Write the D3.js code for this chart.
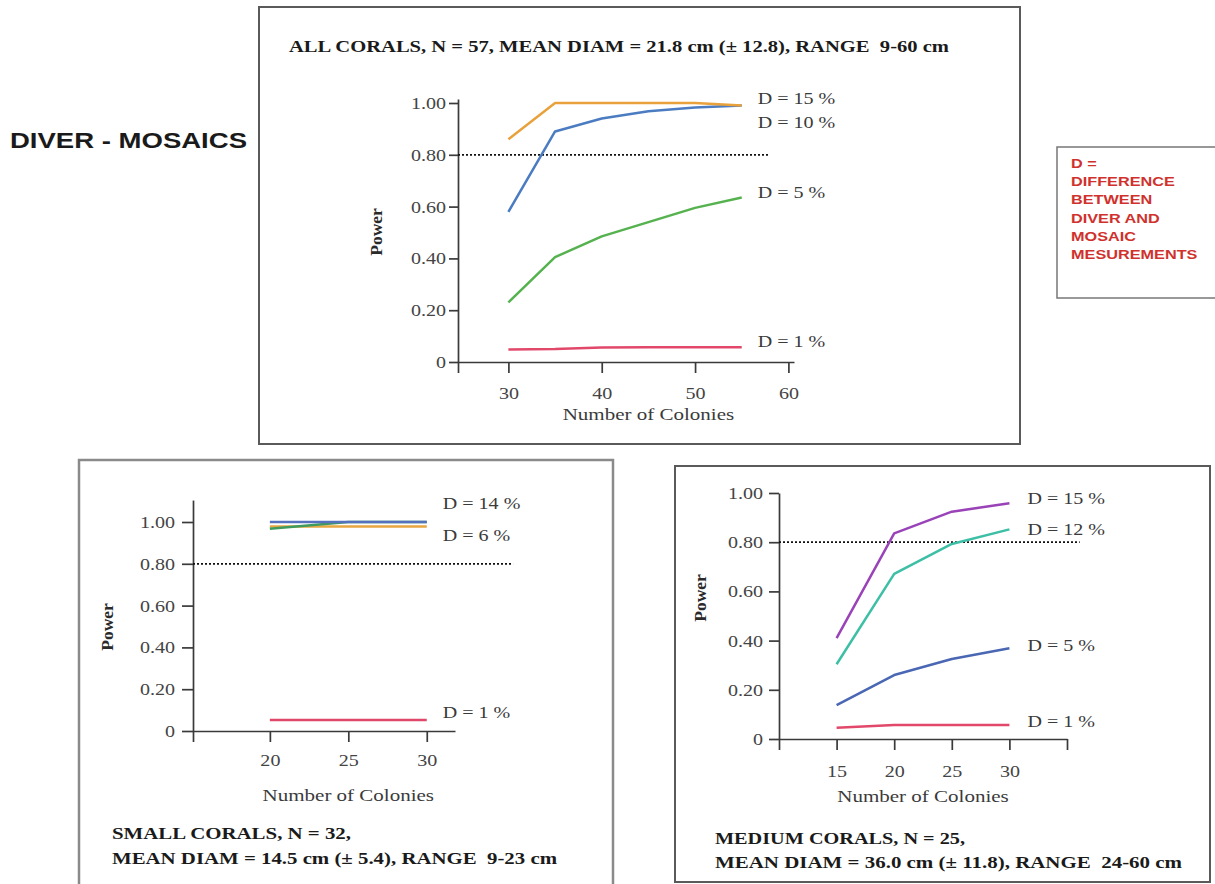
<!DOCTYPE html>
<html>
<head>
<meta charset="utf-8">
<script src="https://cdn.jsdelivr.net/npm/d3@7"></script>
<style>
  html, body { margin: 0; padding: 0; background: #fff; }
  svg { display: block; }
  .serif { font-family: "Liberation Serif", "Times New Roman", serif; }
  .sans { font-family: "Liberation Sans", Arial, sans-serif; }
  text { white-space: pre; }
</style>
</head>
<body>
<svg id="chart" width="1215" height="884"></svg>
<script>
// ---------------- DATA ----------------
const yTicks = [0, 0.2, 0.4, 0.6, 0.8, 1.0];
const yTickLabels = ["0", "0.20", "0.40", "0.60", "0.80", "1.00"];
const powerThreshold = 0.8;

// All corals
const allX = [30, 35, 40, 45, 50, 55];
const allD15 = [0.86, 1.00, 1.00, 1.00, 1.00, 0.99];
const allD10 = [0.58, 0.89, 0.94, 0.968, 0.983, 0.99];
const allD5  = [0.23, 0.405, 0.485, 0.54, 0.595, 0.635];
const allD1  = [0.048, 0.05, 0.056, 0.057, 0.057, 0.057];
const allXTicks = [30, 40, 50, 60];
const allLabels = ["D = 15 %", "D = 10 %", "D = 5 %", "D = 1 %"];
const allLabelY = [1.02, 0.927, 0.656, 0.081];
const allTitle = "ALL CORALS, N = 57, MEAN DIAM = 21.8 cm (\u00b1 12.8), RANGE \u00a09-60 cm";

// Small corals
const smallX = [20, 25, 30];
const smallD14 = [1.00, 1.00, 1.00];
const smallDx  = [0.968, 1.00, 1.00];
const smallD6  = [0.978, 0.978, 0.978];
const smallD1  = [0.053, 0.053, 0.053];
const smallXTicks = [20, 25, 30];
const smallLabels = ["D = 14 %", "D = 6 %", "D = 1 %"];
const smallLabelY = [1.091, 0.938, 0.091];
const smallTitle1 = "SMALL CORALS, N = 32,";
const smallTitle2 = "MEAN DIAM = 14.5 cm (\u00b1 5.4), RANGE \u00a09-23 cm";

// Medium corals
const medX = [15, 20, 25, 30];
const medD15 = [0.41, 0.836, 0.924, 0.958];
const medD12 = [0.304, 0.671, 0.793, 0.852];
const medD5  = [0.138, 0.26, 0.325, 0.369];
const medD1  = [0.046, 0.057, 0.057, 0.057];
const medXTicks = [15, 20, 25, 30];
const medLabels = ["D = 15 %", "D = 12 %", "D = 5 %", "D = 1 %"];
const medLabelY = [0.98, 0.854, 0.382, 0.073];
const medTitle1 = "MEDIUM CORALS, N = 25,";
const medTitle2 = "MEAN DIAM = 36.0 cm (\u00b1 11.8), RANGE \u00a024-60 cm";

const mainTitle = "DIVER - MOSAICS";
const legendLines = ["D =", "DIFFERENCE", "BETWEEN", "DIVER AND", "MOSAIC", "MESUREMENTS"];
const xAxisTitle = "Number of Colonies";
const yAxisTitle = "Power";

// ---------------- STYLE ----------------
const C = {
  orange: "#e9a13b", blue: "#4b7cc2", green: "#55b24f", red: "#e2486a",
  purple: "#9a43b8", teal: "#3dbfa6", navy: "#4a67b4", smallGreen: "#3f9a5e",
  smallBlue: "#5570bf", smallOrange: "#e8a640", smallRed: "#e0486a"
};

const svg = d3.select("#chart");

function stretchTo(sel, width) {
  sel.each(function () {
    d3.select(this).attr("textLength", width).attr("lengthAdjust", "spacingAndGlyphs");
  });
}
function stretchBy(sel, k) {
  sel.each(function () {
    const L = this.getComputedTextLength();
    d3.select(this).attr("textLength", L * k).attr("lengthAdjust", "spacingAndGlyphs");
  });
}

// boxes
function box(x0, y0, x1, y1, stroke, w) {
  svg.append("rect").attr("x", x0).attr("y", y0).attr("width", x1 - x0).attr("height", y1 - y0)
    .attr("fill", "none").attr("stroke", stroke).attr("stroke-width", w);
}
box(259, 7, 1020, 444, "#5a5a5a", 2);
box(79, 460, 613, 890, "#8a8a8a", 2.5);
box(675, 466, 1210, 882, "#5a5a5a", 2);
box(1057, 147, 1216, 298, "#777", 1.5);

// main title
svg.append("text").attr("class", "sans").attr("x", 10).attr("y", 148)
  .attr("font-size", 22).attr("font-weight", "bold").attr("fill", "#1a1a1a")
  .text(mainTitle).call(stretchTo, 237);

// legend box text
svg.append("g").selectAll("text").data(legendLines).join("text")
  .attr("class", "sans").attr("x", 1071).attr("y", (d, i) => 168 + i * 18.2)
  .attr("font-size", 13).attr("font-weight", "bold").attr("fill", "#d0312d")
  .text(d => d)
  .call(stretchBy, 1.25);

// ---------------- PANELS ----------------
function panel(cfg) {
  const g = svg.append("g");
  const x = d3.scaleLinear().domain(cfg.xDomain).range(cfg.xRange);
  const y = d3.scaleLinear().domain([0, cfg.yMax]).range([cfg.y0, cfg.y0 - cfg.yUnit * cfg.yMax]);

  // y axis
  const ya = g.append("g").attr("transform", `translate(${cfg.xRange[0]},0)`)
    .call(d3.axisLeft(y).tickValues(yTicks).tickFormat((d, i) => yTickLabels[i])
      .tickSize(cfg.yTick).tickSizeOuter(0).tickPadding(cfg.yPad));
  // x axis
  const xa = g.append("g").attr("transform", `translate(0,${cfg.y0})`)
    .call(d3.axisBottom(x).tickValues([cfg.xDomain[0], ...cfg.xTicks, ...(cfg.endTick ? [cfg.xDomain[1]] : [])])
      .tickFormat(d => cfg.xTicks.includes(d) ? d : "")
      .tickSize(cfg.xTick).tickSizeOuter(0).tickPadding(cfg.xPad));
  [ya, xa].forEach(a => {
    a.selectAll("path, line").attr("stroke", "#3a3a3a").attr("stroke-width", 1.7);
    a.selectAll("text").attr("class", "serif").attr("font-size", 17).attr("fill", "#444")
      .call(stretchBy, 1.18);
  });

  // threshold
  g.append("line")
    .attr("x1", x(cfg.xDomain[0])).attr("x2", x(cfg.dotEnd))
    .attr("y1", y(powerThreshold)).attr("y2", y(powerThreshold))
    .attr("stroke", "#111").attr("stroke-width", 1.7).attr("stroke-dasharray", "2,2");

  // series
  const line = d3.line().x((d, i) => x(cfg.xs[i])).y(d => y(d));
  cfg.series.forEach(s => {
    g.append("path").datum(s.values).attr("d", line)
      .attr("fill", "none").attr("stroke", s.color).attr("stroke-width", 2.5)
      .attr("stroke-linejoin", "round");
  });

  // series labels
  const lx = x(cfg.xs[cfg.xs.length - 1]) + cfg.labelGap;
  g.selectAll("text.lab").data(cfg.labels).join("text").attr("class", "serif lab")
    .attr("x", lx).attr("y", (d, i) => y(cfg.labelY[i]))
    .attr("dy", "0.35em").attr("font-size", 17).attr("fill", "#3a3a3a")
    .text(d => d).call(stretchBy, 1.18);

  // axis titles
  g.append("text").attr("class", "serif")
    .attr("x", (x(cfg.xTicks[0]) + x(cfg.xTicks[cfg.xTicks.length - 1])) / 2 + cfg.xtOff)
    .attr("y", cfg.xtY).attr("text-anchor", "middle").attr("font-size", 17.5).attr("fill", "#3a3a3a")
    .text(xAxisTitle).call(stretchBy, 1.2);
  g.append("text").attr("class", "serif")
    .attr("transform", `translate(${cfg.ytX},${cfg.ytY}) rotate(-90)`)
    .attr("text-anchor", "middle").attr("font-size", 17.5).attr("font-weight", "bold").attr("fill", "#2a2a2a")
    .text(yAxisTitle);

  // titles
  cfg.titles.forEach(t => {
    g.append("text").attr("class", "serif").attr("x", t.x).attr("y", t.y)
      .attr("font-size", 16).attr("font-weight", "bold").attr("fill", "#1a1a1a")
      .text(t.text).call(stretchTo, t.w);
  });
}

panel({
  xDomain: [24.6, 60.6], xRange: [458, 794], y0: 362, yUnit: 259, yMax: 1.015,
  xTicks: allXTicks, endTick: false, yTick: 9, yPad: 3, xTick: 11, xPad: 14,
  dotEnd: 57.9, xs: allX,
  series: [
    { values: allD1, color: C.red },
    { values: allD5, color: C.green },
    { values: allD10, color: C.blue },
    { values: allD15, color: C.orange }
  ],
  labels: allLabels, labelY: allLabelY, labelGap: 16,
  xtOff: 0, xtY: 420, ytX: 382, ytY: 232,
  titles: [{ text: allTitle, x: 289, y: 52, w: 660 }]
});

panel({
  xDomain: [15.1, 31.8], xRange: [193, 455], y0: 731, yUnit: 209, yMax: 1.105,
  xTicks: smallXTicks, endTick: false, yTick: 11, yPad: 7, xTick: 11, xPad: 12,
  dotEnd: 35.5, xs: smallX,
  series: [
    { values: smallD1, color: C.smallRed },
    { values: smallD6, color: C.smallOrange },
    { values: smallDx, color: C.smallGreen },
    { values: smallD14, color: C.smallBlue }
  ],
  labels: smallLabels, labelY: smallLabelY, labelGap: 16,
  xtOff: 0, xtY: 801, ytX: 113, ytY: 627,
  titles: [{ text: smallTitle1, x: 112, y: 839, w: 239 }, { text: smallTitle2, x: 112, y: 864, w: 445 }]
});

panel({
  xDomain: [10, 35], xRange: [779, 1067], y0: 739, yUnit: 246, yMax: 1.0,
  xTicks: medXTicks, endTick: true, yTick: 10, yPad: 6, xTick: 11, xPad: 15,
  dotEnd: 36.1, xs: medX,
  series: [
    { values: medD1, color: C.red },
    { values: medD5, color: C.navy },
    { values: medD12, color: C.teal },
    { values: medD15, color: C.purple }
  ],
  labels: medLabels, labelY: medLabelY, labelGap: 18,
  xtOff: 0, xtY: 802, ytX: 706, ytY: 598,
  titles: [{ text: medTitle1, x: 715, y: 844, w: 250 }, { text: medTitle2, x: 715, y: 868, w: 467 }]
});
</script>
</body>
</html>
